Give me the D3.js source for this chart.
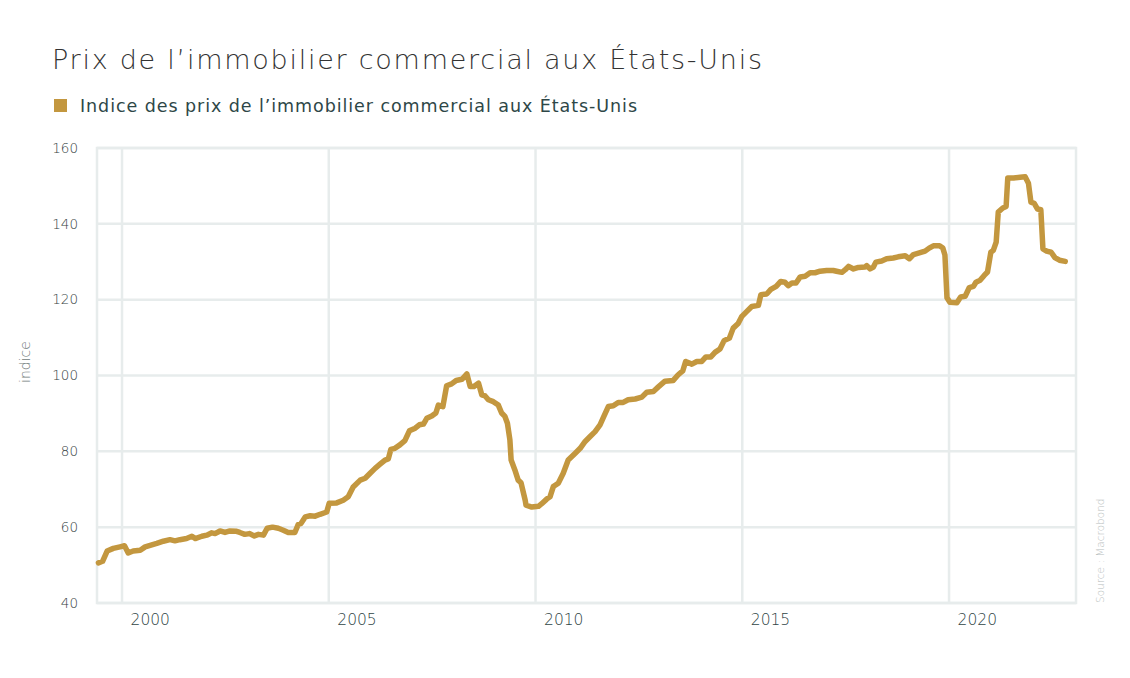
<!DOCTYPE html>
<html lang="fr">
<head>
<meta charset="UTF-8">
<title>Prix de l'immobilier commercial aux États-Unis</title>
<style>
  body { margin: 0; background: #fff; }
  svg { display: block; font-family: "DejaVu Sans", "Open Sans", sans-serif; }
</style>
</head>
<body>
<svg id="chart" width="1130" height="678"></svg>
<script src="https://d3js.org/d3.v7.min.js"></script>
<script>

// decimal years and index values
let years = [
  1999.43, 1999.53, 1999.64, 1999.79, 1999.95, 2000.06, 2000.15, 2000.27, 2000.44, 2000.56,
  2000.68, 2000.84, 2001.00, 2001.16, 2001.28, 2001.40, 2001.56, 2001.69, 2001.77, 2001.93,
  2002.05, 2002.17, 2002.25, 2002.37, 2002.49, 2002.61, 2002.77, 2002.85, 2002.97, 2003.08,
  2003.20, 2003.30, 2003.42, 2003.51, 2003.64, 2003.78, 2003.90, 2004.02, 2004.18, 2004.26,
  2004.33, 2004.43, 2004.55, 2004.67, 2004.79, 2004.95, 2005.01, 2005.19, 2005.35, 2005.47,
  2005.59, 2005.76, 2005.88, 2006.00, 2006.12, 2006.24, 2006.36, 2006.44, 2006.50, 2006.60,
  2006.72, 2006.84, 2006.95, 2007.09, 2007.19, 2007.29, 2007.37, 2007.49, 2007.59, 2007.65,
  2007.76, 2007.85, 2007.97, 2008.08, 2008.22, 2008.34, 2008.42, 2008.51, 2008.62, 2008.70,
  2008.78, 2008.86, 2008.98, 2009.10, 2009.18, 2009.26, 2009.32, 2009.38, 2009.41, 2009.50,
  2009.58, 2009.65, 2009.75, 2009.77, 2009.91, 2010.07, 2010.15, 2010.27, 2010.35, 2010.43,
  2010.55, 2010.67, 2010.79, 2010.96, 2011.08, 2011.20, 2011.32, 2011.44, 2011.56, 2011.66,
  2011.76, 2011.88, 2012.00, 2012.12, 2012.24, 2012.41, 2012.57, 2012.69, 2012.85, 2012.97,
  2013.13, 2013.33, 2013.45, 2013.56, 2013.63, 2013.78, 2013.90, 2014.02, 2014.12, 2014.24,
  2014.34, 2014.46, 2014.56, 2014.69, 2014.78, 2014.90, 2014.99, 2015.11, 2015.23, 2015.39,
  2015.45, 2015.59, 2015.69, 2015.82, 2015.93, 2016.03, 2016.11, 2016.20, 2016.30, 2016.40,
  2016.52, 2016.64, 2016.76, 2016.88, 2017.04, 2017.20, 2017.28, 2017.41, 2017.49, 2017.57,
  2017.69, 2017.81, 2017.97, 2018.01, 2018.09, 2018.17, 2018.23, 2018.37, 2018.49, 2018.65,
  2018.77, 2018.94, 2019.04, 2019.14, 2019.30, 2019.42, 2019.52, 2019.62, 2019.77, 2019.85,
  2019.90, 2019.95, 2020.02, 2020.19, 2020.28, 2020.39, 2020.49, 2020.59, 2020.65, 2020.75,
  2020.85, 2020.93, 2021.01, 2021.07, 2021.14, 2021.19, 2021.30, 2021.38, 2021.42, 2021.56,
  2021.72, 2021.84, 2021.92, 2021.98, 2022.06, 2022.14, 2022.22, 2022.27, 2022.36, 2022.47,
  2022.56, 2022.67, 2022.81
];

let values = [
  50.6, 51.0, 53.7, 54.4, 54.8, 55.1, 53.2, 53.7, 53.9, 54.8,
  55.2, 55.7, 56.3, 56.7, 56.4, 56.7, 57.0, 57.6, 57.0, 57.6,
  57.9, 58.5, 58.3, 59.0, 58.6, 59.0, 58.9, 58.6, 58.1, 58.3,
  57.7, 58.1, 57.9, 59.7, 60.0, 59.7, 59.2, 58.6, 58.6, 60.7,
  61.0, 62.7, 63.0, 62.9, 63.4, 64.0, 66.3, 66.4, 67.1, 68.0,
  70.6, 72.4, 72.9, 74.2, 75.5, 76.6, 77.7, 78.0, 80.5, 80.8,
  81.7, 82.8, 85.4, 86.1, 87.0, 87.2, 88.7, 89.3, 90.1, 92.2,
  91.8, 97.3, 97.8, 98.7, 99.0, 100.4, 97.1, 97.1, 98.0, 94.9,
  94.6, 93.6, 93.1, 92.2, 90.1, 89.2, 87.4, 83.0, 77.7, 75.1,
  72.4, 71.7, 67.1, 65.8, 65.3, 65.5, 66.2, 67.4, 68.0, 70.7,
  71.6, 74.2, 77.7, 79.5, 80.8, 82.6, 83.9, 85.2, 87.0, 89.4,
  91.8, 92.0, 92.9, 92.9, 93.6, 93.8, 94.3, 95.6, 95.8, 97.0,
  98.5, 98.7, 100.2, 101.2, 103.7, 103.0, 103.7, 103.7, 104.9, 104.9,
  106.1, 107.0, 109.2, 109.9, 112.5, 113.7, 115.6, 116.9, 118.2, 118.5,
  121.3, 121.5, 122.7, 123.5, 124.8, 124.6, 123.7, 124.4, 124.4, 126.0,
  126.2, 127.1, 127.1, 127.5, 127.7, 127.7, 127.5, 127.2, 127.9, 128.8,
  128.1, 128.5, 128.6, 129.0, 128.1, 128.6, 129.9, 130.2, 130.8, 131.0,
  131.3, 131.6, 130.8, 131.9, 132.4, 132.8, 133.6, 134.2, 134.2, 133.6,
  131.8, 120.5, 119.3, 119.2, 120.7, 120.9, 123.2, 123.5, 124.6, 125.1,
  126.4, 127.3, 132.5, 133.0, 135.2, 143.1, 144.2, 144.6, 152.1, 152.1,
  152.3, 152.4, 150.7, 145.7, 145.4, 143.9, 143.7, 133.4, 132.8, 132.5,
  131.1, 130.4, 130.1
];

let xTicks = [2000, 2005, 2010, 2015, 2020];
let yTicks = [40, 60, 80, 100, 120, 140, 160];

let title = "Prix de l’immobilier commercial aux États-Unis";
let seriesName = "Indice des prix de l’immobilier commercial aux États-Unis";
let axisName = "indice";
let source = "Source : Macrobond";

let data = years.map((yr, i) => ({year: yr, value: values[i]}));

let svg = d3.select("#chart");

let plot = {left: 97, right: 1076, top: 148, bottom: 603};
let gridColor = "#e7ecec";
let lineColor = "#c3973f";

let x = d3.scaleLinear().domain([1999.395, 2023.07]).range([plot.left, plot.right]);
let y = d3.scaleLinear().domain([40, 160]).range([plot.bottom, plot.top]);

// title and legend
svg.append("text")
    .attr("x", 52).attr("y", 69)
    .attr("font-size", 27).attr("font-weight", 200)
    .attr("fill", "#333")
    .attr("textLength", 710).attr("lengthAdjust", "spacing")
    .text(title);

svg.append("rect")
    .attr("x", 54).attr("y", 99)
    .attr("width", 13).attr("height", 13)
    .attr("fill", lineColor);

svg.append("text")
    .attr("x", 80).attr("y", 111.5)
    .attr("font-size", 17.5)
    .attr("fill", "#2e4747")
    .attr("textLength", 557).attr("lengthAdjust", "spacing")
    .text(seriesName);

// grid
let grid = svg.append("g");
grid.selectAll(".hgrid")
    .data(yTicks)
    .enter()
    .append("line")
    .attr("x1", plot.left).attr("x2", plot.right)
    .attr("y1", d => y(d)).attr("y2", d => y(d))
    .attr("stroke", gridColor).attr("stroke-width", 2.5);

grid.selectAll(".vgrid")
    .data(xTicks)
    .enter()
    .append("line")
    .attr("x1", d => x(d)).attr("x2", d => x(d))
    .attr("y1", plot.top).attr("y2", plot.bottom)
    .attr("stroke", gridColor).attr("stroke-width", 2.5);

grid.append("rect")
    .attr("x", plot.left).attr("y", plot.top)
    .attr("width", plot.right - plot.left).attr("height", plot.bottom - plot.top)
    .attr("fill", "none")
    .attr("stroke", gridColor).attr("stroke-width", 2.5);

// y axis
let yAxis = svg.append("g")
    .attr("transform", "translate(" + (plot.left - 19) + ",0)")
    .call(d3.axisLeft(y).tickValues(yTicks).tickSize(0).tickPadding(0));
yAxis.select(".domain").remove();
yAxis.selectAll("text")
    .attr("font-size", 13.5)
    .attr("font-family", "DejaVu Sans, sans-serif")
    .attr("font-weight", 200)
    .attr("fill", "#354242");

svg.append("text")
    .attr("transform", "translate(30,362) rotate(-90)")
    .attr("text-anchor", "middle")
    .attr("font-size", 14)
    .attr("font-weight", 200)
    .attr("fill", "#6f7a7a")
    .text(axisName);

// x axis labels sit just right of the year gridline
svg.append("g")
    .selectAll("text")
    .data(xTicks)
    .enter()
    .append("text")
    .attr("x", d => x(d) + 8.5)
    .attr("y", 625)
    .attr("font-size", 15.5)
    .attr("font-weight", 200)
    .attr("fill", "#2f4545")
    .text(d => d);

// series line
let line = d3.line()
    .x(d => x(d.year))
    .y(d => y(d.value));

svg.append("path")
    .datum(data)
    .attr("d", line)
    .attr("fill", "none")
    .attr("stroke", lineColor)
    .attr("stroke-width", 5.5)
    .attr("stroke-linejoin", "round")
    .attr("stroke-linecap", "round");

// source
svg.append("text")
    .attr("transform", "translate(1104,603) rotate(-90)")
    .attr("font-size", 10.5)
    .attr("font-weight", 200)
    .attr("fill", "#b8bebe")
    .text(source);

</script>
</body>
</html>
